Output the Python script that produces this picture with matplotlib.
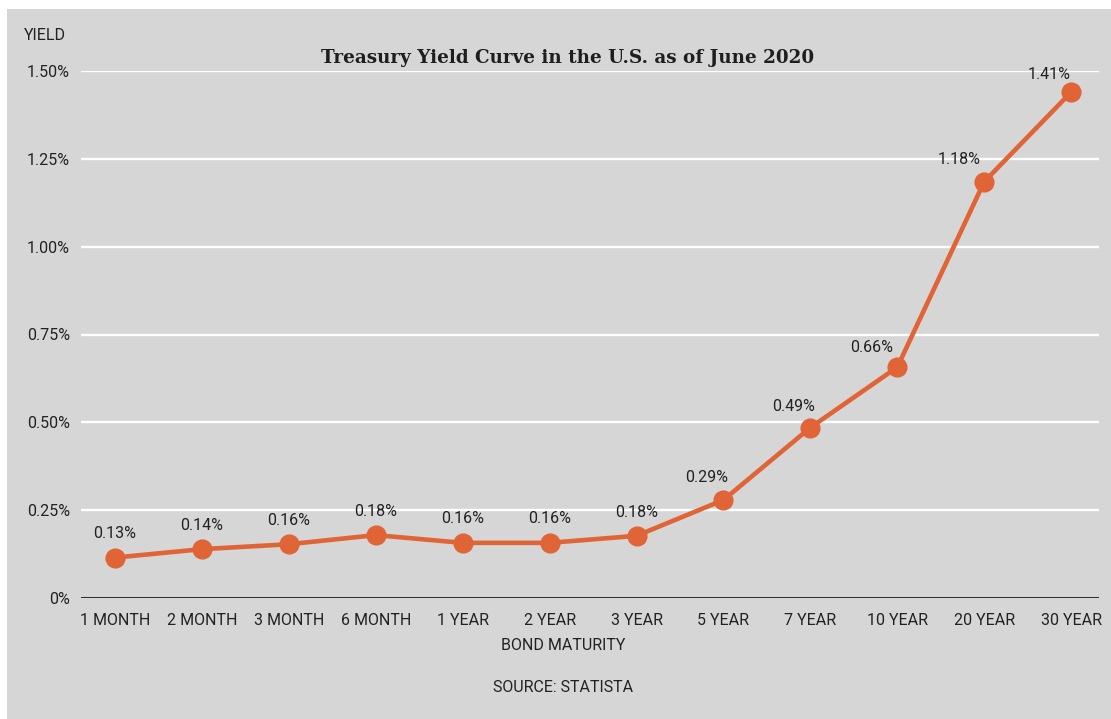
import matplotlib
matplotlib.use("Agg")
from matplotlib import pyplot as plt
from matplotlib.patches import Rectangle

# data
maturities = ["1 MONTH", "2 MONTH", "3 MONTH", "6 MONTH", "1 YEAR", "2 YEAR",
              "3 YEAR", "5 YEAR", "7 YEAR", "10 YEAR", "20 YEAR", "30 YEAR"]
yields = [0.115, 0.139, 0.153, 0.179, 0.157, 0.157,
          0.177, 0.279, 0.485, 0.657, 1.185, 1.440]
yield_labels = ["0.13%", "0.14%", "0.16%", "0.18%", "0.16%", "0.16%",
                "0.18%", "0.29%", "0.49%", "0.66%", "1.18%", "1.41%"]
y_ticks = [0, 0.25, 0.5, 0.75, 1.0, 1.25, 1.5]
y_ticklabels = ["0%", "0.25%", "0.50%", "0.75%", "1.00%", "1.25%", "1.50%"]

# label nudges in pixels (style only)
label_dx = [0, 0, 0, 0, 0, 0, 0, -17, -17, -26, -25, -22]
label_dy = [24, 24, 24, 24, 24, 24, 23, 22, 21, 20, 22, 18]

W, H = 1111, 719
bg = "#d5d6d5"
orange = "#e06436"
txt = "#222222"
cond = ["Roboto", "DejaVu Sans"]
fs = 11.5

fig = plt.figure(figsize=(W / 100, H / 100), dpi=100)
fig.patch.set_facecolor("white")
fig.patches.append(Rectangle((7 / W, 0), 1, (H - 9) / H, transform=fig.transFigure,
                             facecolor=bg, edgecolor="none", zorder=-5))

ax = fig.add_axes([81 / W, 121 / H, (1099 - 81) / W, 527 / H])
ax.set_facecolor(bg)
x = list(range(len(maturities)))
ax.set_xlim(-0.39, 11.32)
ax.set_ylim(0, 1.5)

for t in y_ticks[1:]:
    ax.axhline(t, color="white", lw=1.7, zorder=1)
ax.axhline(0, color="#333333", lw=2.2, zorder=2)

ax.plot(x, yields, color=orange, lw=3.3, marker="o", markersize=13.5,
        zorder=3, clip_on=False)

for i, (v, lab) in enumerate(zip(yields, yield_labels)):
    ax.annotate(lab, (i, v), xytext=(label_dx[i] * 0.72, label_dy[i] * 0.72),
                textcoords="offset points", ha="center", va="center",
                fontsize=fs, color=txt, family=cond)

for s in ax.spines.values():
    s.set_visible(False)
ax.set_xticks(x)
ax.set_xticklabels(maturities, fontsize=fs, color=txt, family=cond)
ax.set_yticks(y_ticks)
ax.set_yticklabels(y_ticklabels, fontsize=fs, color=txt, family=cond)
ax.tick_params(axis="x", length=0, pad=11)
ax.tick_params(axis="y", length=0, pad=8)

fig.text(24 / W, 1 - 36 / H, "YIELD", fontsize=fs, color=txt, family=cond,
         ha="left", va="center")
fig.text(568 / W, 1 - 58 / H, "Treasury Yield Curve in the U.S. as of June 2020",
         fontsize=13.2, fontweight="bold", color="#1e1e1e", family="DejaVu Serif",
         ha="center", va="center")
fig.text(563 / W, 1 - 645 / H, "BOND MATURITY", fontsize=fs, color=txt,
         family=cond, ha="center", va="center")
fig.text(563 / W, 1 - 688 / H, "SOURCE: STATISTA", fontsize=fs, color=txt,
         family=cond, ha="center", va="center")

fig.savefig("out.png", dpi=100, facecolor=fig.get_facecolor())
